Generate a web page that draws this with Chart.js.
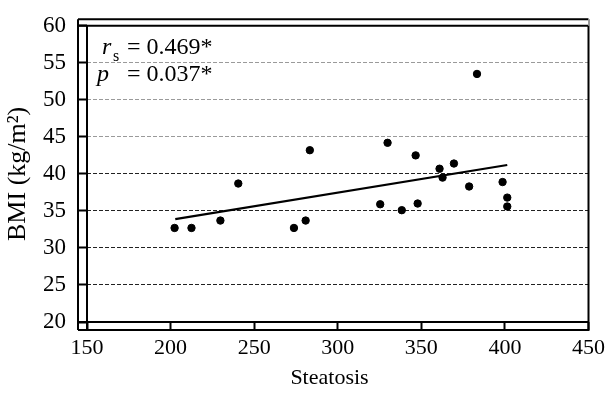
<!DOCTYPE html>
<html>
<head>
<meta charset="utf-8">
<script src="https://cdn.jsdelivr.net/npm/chart.js@4/dist/chart.umd.min.js"></script>
<style>
  html, body { margin: 0; padding: 0; background: #fff; }
  #wrap { width: 610px; height: 393px; }
</style>
</head>
<body>
<div id="wrap"><canvas id="c" width="610" height="393"></canvas></div>
<script>
// ---- data ----
const steatosis = [202.4, 212.5, 229.8, 240.5, 273.8, 280.8, 283.3, 325.4, 329.8, 338.3,
                   346.6, 347.8, 360.9, 362.7, 369.5, 378.6, 383.3, 398.6, 401.4, 401.4];
const bmi       = [32.7, 32.7, 33.7, 38.7, 32.7, 33.7, 43.2, 35.9, 44.2, 35.1,
                   42.5, 36.0, 40.7, 39.5, 41.4, 38.3, 53.5, 38.9, 36.8, 35.6];
const fitX = [202.8, 401.4];
const fitY = [33.9, 41.2];
const xTicks = [150, 200, 250, 300, 350, 400, 450];
const yTicks = [20, 25, 30, 35, 40, 45, 50, 55, 60];
const xTitle = 'Steatosis\u00a0\u00a0\u00a0';
const yTitle = 'BMI (kg/m²)';
const statLines = [
  { sym: 'r', sub: 's', text: '= 0.469*' },
  { sym: 'p', sub: '',  text: '= 0.037*' }
];

const FONT = "'Liberation Serif', 'Times New Roman', serif";

const framePlugin = {
  id: 'frame',
  afterDraw(chart) {
    const ctx = chart.ctx;
    const ca = chart.chartArea;
    const L = ca.left, T = ca.top, R = ca.right, B = ca.bottom;
    const oL = L - 9, oT = T - 6.5, oB = B + 8;
    ctx.save();
    ctx.strokeStyle = '#000';
    ctx.lineWidth = 2;
    ctx.beginPath();
    // outer
    ctx.moveTo(oL, oT); ctx.lineTo(R, oT);
    ctx.moveTo(oL, oT); ctx.lineTo(oL, oB);
    ctx.moveTo(oL, oB); ctx.lineTo(R, oB);
    // inner
    ctx.moveTo(oL, T); ctx.lineTo(R, T);
    ctx.moveTo(L, T); ctx.lineTo(L, oB);
    ctx.moveTo(oL, B); ctx.lineTo(R, B);
    ctx.moveTo(R, T - 1); ctx.lineTo(R, oB + 1);
    ctx.stroke();
    ctx.strokeStyle = '#999';
    ctx.beginPath();
    ctx.moveTo(R + 0.5, oT); ctx.lineTo(R + 0.5, T);
    ctx.stroke();

    // stats text
    ctx.fillStyle = '#000';
    ctx.textBaseline = 'alphabetic';
    ctx.textAlign = 'left';
    const baselines = [T + 28.5, T + 55.5];
    statLines.forEach((s, i) => {
      const y = baselines[i];
      ctx.font = 'italic 24px ' + FONT;
      ctx.fillText(s.sym, i === 0 ? L + 15 : L + 10, y);
      if (s.sub) {
        ctx.font = '16px ' + FONT;
        ctx.fillText(s.sub, L + 26, y + 7);
      }
      ctx.font = '24px ' + FONT;
      ctx.fillText(s.text, L + 40, y);
    });
    ctx.restore();
  }
};

new Chart(document.getElementById('c'), {
  type: 'scatter',
  data: {
    datasets: [
      {
        type: 'scatter',
        data: steatosis.map((x, i) => ({ x: x, y: bmi[i] })),
        backgroundColor: '#000',
        borderColor: '#000',
        pointRadius: 3.7,
        pointHoverRadius: 3.7,
        order: 2
      },
      {
        type: 'line',
        data: fitX.map((x, i) => ({ x: x, y: fitY[i] })),
        borderColor: '#000',
        borderWidth: 2.2,
        pointRadius: 0,
        fill: false,
        order: 1
      }
    ]
  },
  options: {
    responsive: false,
    animation: false,
    events: [],
    layout: { padding: { top: 18, right: 19, left: 0, bottom: 0 } },
    plugins: { legend: { display: false }, tooltip: { enabled: false } },
    scales: {
      x: {
        type: 'linear',
        min: 150, max: 450,
        afterBuildTicks: (s) => { s.ticks = xTicks.map(v => ({ value: v })); },
        afterFit: (s) => { s.height = 71; },
        border: { display: false },
        grid: {
          drawOnChartArea: false,
          drawTicks: true,
          tickLength: 8,
          tickColor: '#000',
          tickWidth: 2
        },
        ticks: {
          color: '#000',
          padding: 5,
          maxRotation: 0,
          font: { family: FONT, size: 22 }
        },
        title: {
          display: true,
          text: xTitle,
          color: '#000',
          font: { family: FONT, size: 22 },
          padding: { top: 0, bottom: 2 }
        }
      },
      y: {
        type: 'linear',
        min: 20, max: 60,
        afterBuildTicks: (s) => { s.ticks = yTicks.map(v => ({ value: v })); },
        afterFit: (s) => { s.width = 87; },
        border: { display: false, dash: [4, 2] },
        grid: {
          color: (ctx) => (ctx.tick && ctx.tick.value >= 45 ? '#9a9a9a' : '#222'),
          lineWidth: 1,
          drawTicks: true,
          tickLength: 9,
          tickColor: '#000',
          tickWidth: 2,
          tickBorderDash: [1, 0]
        },
        ticks: {
          color: '#000',
          padding: 12,
          font: { family: FONT, size: 23 }
        },
        title: {
          display: true,
          text: yTitle,
          color: '#000',
          font: { family: FONT, size: 26 },
          padding: { top: 3, bottom: 0 }
        }
      }
    }
  },
  plugins: [framePlugin]
});
</script>
</body>
</html>
